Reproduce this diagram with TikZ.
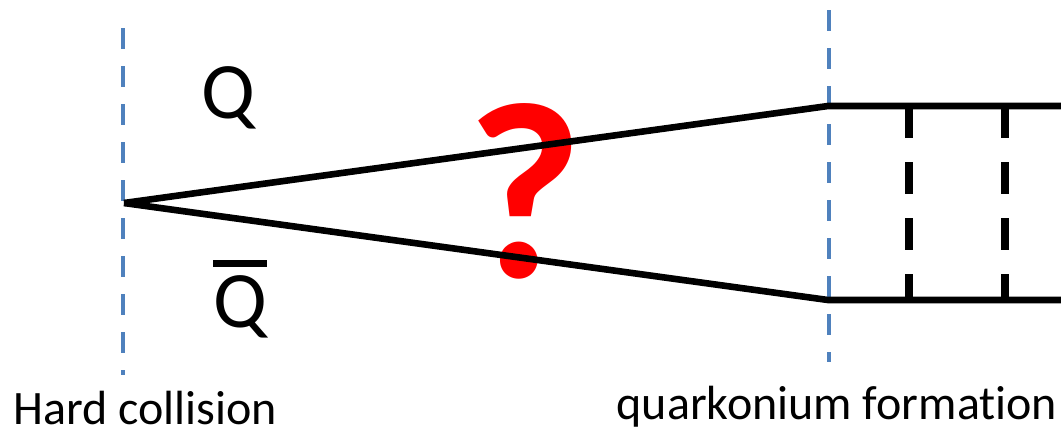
\documentclass[tikz,border=0pt]{standalone}
\usepackage{fontspec}
\setmainfont{Carlito}[Ligatures=NoCommon]
\usetikzlibrary{positioning}
\definecolor{guideblue}{HTML}{4F81BD}
\definecolor{askred}{HTML}{FF0000}
\newcommand{\antiquark}{\setbox0\hbox{Q}\vbox{\hrule height 3.5pt width \wd0\kern 4pt\box0}}

\begin{document}
\begin{tikzpicture}[x=0.5pt,y=-0.5pt,
  guide/.style={guideblue,line width=2.2pt,dash pattern=on 10.5pt off 8.5pt},
  quark/.style={line width=3.3pt},
  gluon/.style={line width=3.6pt,dash pattern=on 16pt off 12pt},
  caption/.style={font=\fontsize{24}{28}\selectfont,anchor=base,inner sep=0pt},
  flavour/.style={font=\fontsize{40}{48}\selectfont,anchor=base}
]
  \useasboundingbox (0,0) rectangle (1061,436);
  % time markers
  \coordinate (lg1) at (123,28);
  \coordinate (lg2) at (123,375);
  \coordinate (rg1) at (829,10);
  \coordinate (rg2) at (829,362);
  \draw[guide] (lg1) -- (lg2);
  \draw[guide] (rg1) -- (rg2);
  % labels
  \node[font=\bfseries\fontsize{126}{132}\selectfont,text=askred,anchor=base] (ask) at (525,277) {?};
  \node[flavour] (Q) at (228,118) {Q};
  \node[flavour] (Qbar) at (240,327) {\antiquark};
  \node[caption] (hardlbl) at (145,424) {Hard collision};
  \node[caption] (formlbl) at (837,419) {quarkonium formation};
  % quark pair
  \coordinate (vtx) at (124,203);
  \coordinate (qtop) at (828,106);
  \coordinate (qbot) at (828,300);
  \coordinate (etop) at (1061,106);
  \coordinate (ebot) at (1061,300);
  \draw[quark] (vtx) -- (qtop) -- (etop);
  \draw[quark] (vtx) -- (qbot) -- (ebot);
  % exchanges in the bound state
  \coordinate (g1top) at (909,106);
  \coordinate (g1bot) at (909,300);
  \coordinate (g2top) at (1005,106);
  \coordinate (g2bot) at (1005,300);
  \draw[gluon] (g1top) -- (g1bot);
  \draw[gluon] (g2top) -- (g2bot);
\end{tikzpicture}
\end{document}
